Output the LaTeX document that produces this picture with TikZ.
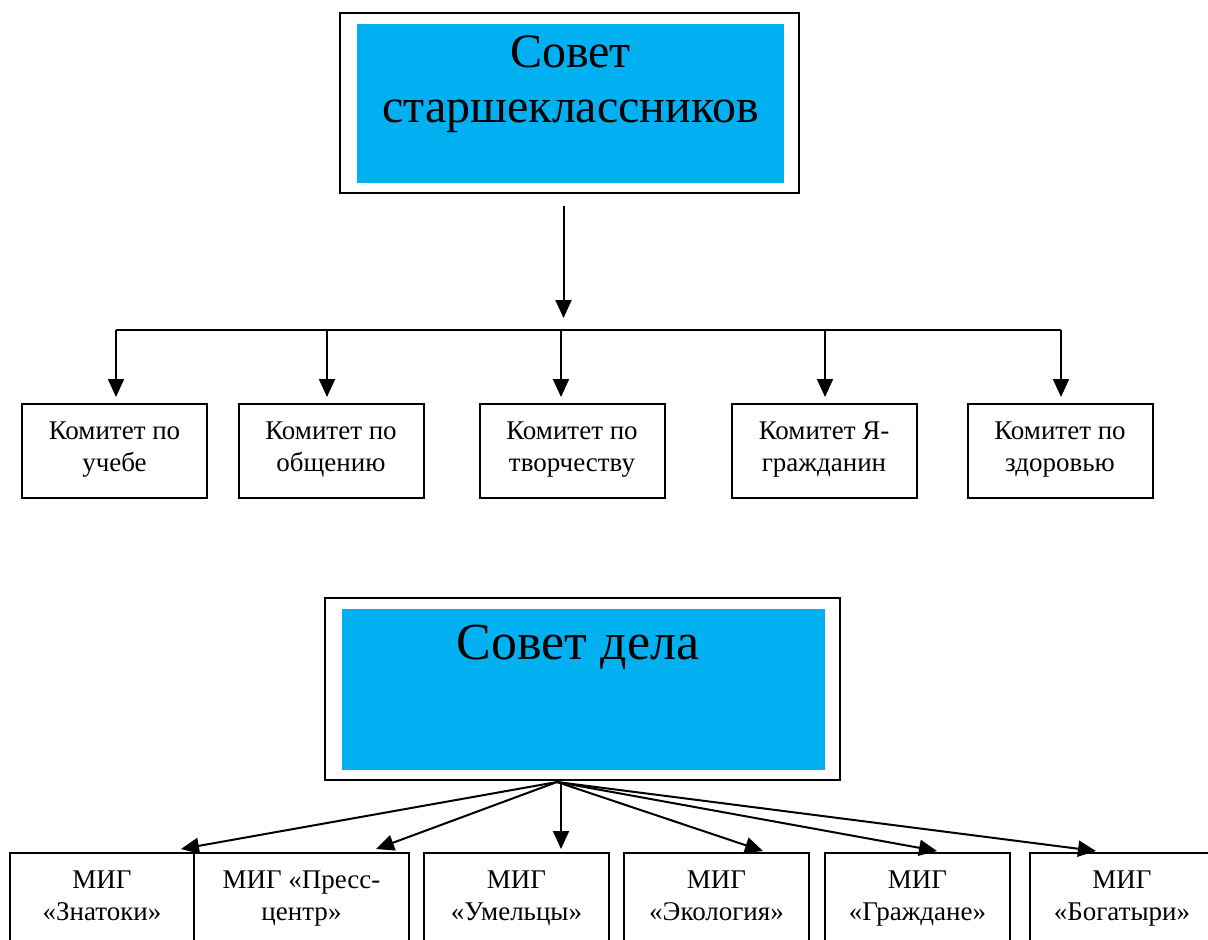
\documentclass[tikz,border=0pt]{standalone}
\usepackage{fontspec}
\setmainfont{Liberation Serif}
\usetikzlibrary{arrows.meta,positioning}
\definecolor{skyblue}{HTML}{00B0F0}
\tikzset{
  >={Triangle[length=9pt,width=8pt]},
  council/.style = {draw, line width=1pt, inner sep=0pt,
    path picture={\fill[skyblue] ([xshift=8.5pt,yshift=-5.5pt]path picture bounding box.north west)
      rectangle ([xshift=-7.5pt,yshift=5pt]path picture bounding box.south east);}},
  title/.style = {font=\fontsize{24}{27.5}\selectfont, align=center, inner sep=0pt, anchor=north},
  unit/.style = {draw, line width=1pt, minimum width=92.5pt, minimum height=47pt, inner sep=0pt,
    align=center, font=\fontsize{13.5}{16}\selectfont,
    execute at begin node=\strut, execute at end node=\strut},
  link/.style = {line width=1pt},
}
\begin{document}
\begin{tikzpicture}[x=0.5pt,y=-0.5pt]
  \useasboundingbox (0,0) rectangle (1208,939);
  % upper council
  \node[council, minimum width=229.5pt, minimum height=90pt] (sc) at (569.5,103) {};
  \node[title] (sctitle) at (570.5,35) {Совет\\старшеклассников};
  \coordinate (bushub) at (563.5,318);
  \draw[link,->,shorten <=6pt] (sc.south -| bushub) -- (bushub);
  % committees
  \node[unit] (k1) at (114.5,451) {Комитет по\\учебе};
  \node[unit] (k2) at (331,451) {Комитет по\\общению};
  \node[unit] (k3) at (572,451) {Комитет по\\творчеству};
  \node[unit] (k4) at (824,451) {Комитет Я-\\гражданин};
  \node[unit] (k5) at (1060,451) {Комитет по\\здоровью};
  \coordinate (b1) at (116,329.5);
  \coordinate (b2) at (327,329.5);
  \coordinate (b3) at (561,329.5);
  \coordinate (b4) at (825,329.5);
  \coordinate (b5) at (1061,329.5);
  \draw[link] (b1) -- (b5);
  \draw[link,->,shorten >=3pt] (b1) -- (b1 |- k1.north);
  \draw[link,->,shorten >=3pt] (b2) -- (b2 |- k2.north);
  \draw[link,->,shorten >=3pt] (b3) -- (b3 |- k3.north);
  \draw[link,->,shorten >=3pt] (b4) -- (b4 |- k4.north);
  \draw[link,->,shorten >=3pt] (b5) -- (b5 |- k5.north);
  % lower council
  \node[council, minimum width=257.5pt, minimum height=91pt] (sd) at (582.5,689) {};
  \node[title, font=\fontsize{26}{30}\selectfont] (sdtitle) at (578,625) {Совет дела};
  % groups
  \node[unit, minimum width=92pt] (m1) at (102,900) {МИГ\\«Знатоки»};
  \node[unit, minimum width=107.5pt] (m2) at (301.5,900) {МИГ «Пресс-\\центр»};
  \node[unit] (m3) at (516.5,900) {МИГ\\«Умельцы»};
  \node[unit] (m4) at (716.5,900) {МИГ\\«Экология»};
  \node[unit] (m5) at (917.5,900) {МИГ\\«Граждане»};
  \node[unit] (m6) at (1122,900) {МИГ\\«Богатыри»};
  \coordinate (hub) at (557,782);
  \draw[link,->] (hub) -- ([xshift=-7pt,yshift=1.5pt]m1.north east);
  \draw[link,->] (hub) -- ([xshift=-17pt,yshift=1.5pt]m2.north east);
  \draw[link,->] ([xshift=2pt]hub) -- ([xshift=22.25pt,yshift=1.5pt]m3.north);
  \draw[link,->] (hub) -- ([xshift=23.25pt,yshift=0.5pt]m4.north);
  \draw[link,->] (hub) -- ([xshift=9.75pt,yshift=0.5pt]m5.north);
  \draw[link,->] (hub) -- ([xshift=-13pt,yshift=0.5pt]m6.north);
\end{tikzpicture}
\end{document}
